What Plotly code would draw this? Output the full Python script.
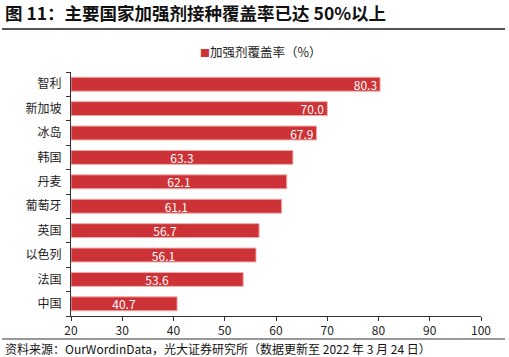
import plotly.graph_objects as go

countries = ["智利", "新加坡", "冰岛", "韩国", "丹麦", "葡萄牙", "英国", "以色列", "法国", "中国"]
coverage = [80.3, 70.0, 67.9, 63.3, 62.1, 61.1, 56.7, 56.1, 53.6, 40.7]
end_labeled = ["智利", "新加坡", "冰岛"]  # labels drawn at bar end; others centred
x_ticks = [20, 30, 40, 50, 60, 70, 80, 90, 100]
x_min, x_max = 20, 100

title = "图 11：主要国家加强剂接种覆盖率已达 50%以上"
source = "资料来源：OurWordinData，光大证券研究所（数据更新至 2022 年 3 月 24 日）"
series_name = "加强剂覆盖率（%）"

FONT = "Noto Sans CJK SC"
BAR = "#CC3236"
EDGE = "#EFA9A9"

fig = go.Figure()
for anchor, pick in (("middle", lambda c: c not in end_labeled), ("end", lambda c: c in end_labeled)):
    vals = [v if pick(c) else None for c, v in zip(countries, coverage)]
    fig.add_trace(go.Bar(
        y=countries, base=x_min,
        x=[(v - x_min) if v is not None else None for v in vals],
        orientation="h", name=series_name,
        marker=dict(color=BAR, line=dict(color=EDGE, width=1)),
        text=[f"{v:.1f}" if v is not None else "" for v in vals],
        textposition="inside", insidetextanchor=anchor, constraintext="none",
        textfont=dict(color="white", size=12, family=FONT),
        width=0.57, showlegend=False, hoverinfo="skip",
    ))

fig.update_layout(
    width=509, height=357,
    margin=dict(l=71, r=28, t=72, b=41),
    paper_bgcolor="white", plot_bgcolor="white",
    barmode="overlay",
    font=dict(family=FONT, size=12, color="#222"),
    xaxis=dict(range=[x_min, x_max], tickvals=x_ticks, showgrid=False, zeroline=False,
               showline=True, linecolor="#333", linewidth=1,
               ticks="outside", ticklen=4, tickcolor="#333",
               tickfont=dict(size=12, color="#222")),
    yaxis=dict(categoryorder="array", categoryarray=countries[::-1],
               showgrid=False, showline=True, linecolor="#333", linewidth=1,
               ticks="outside", ticklen=4, tickcolor="#333", tickson="boundaries",
               ticklabelstandoff=6,
               tickfont=dict(size=12, color="#222")),
    annotations=[
        dict(text=f"<b>{title}</b>", xref="paper", yref="paper",
             x=(3 - 71) / 410, y=(316 - 13) / 244, xanchor="left", yanchor="middle",
             showarrow=False, font=dict(size=17.5, color="#111", family=FONT)),
        dict(text=f"<span style='color:{BAR};font-size:10px'>■</span>{series_name}",
             xref="paper", yref="paper",
             x=(198 - 71) / 410, y=(316 - 52) / 244, xanchor="left", yanchor="middle",
             showarrow=False, font=dict(size=12.5, color="#222", family=FONT)),
        dict(text=source, xref="paper", yref="paper",
             x=(3 - 71) / 410, y=(316 - 348) / 244, xanchor="left", yanchor="middle",
             showarrow=False, font=dict(size=12, color="#111", family=FONT)),
    ],
    shapes=[
        dict(type="line", xref="paper", yref="paper",
             x0=(2 - 71) / 410, x1=(505 - 71) / 410,
             y0=(316 - 29) / 244, y1=(316 - 29) / 244,
             line=dict(color="#555", width=2)),
        dict(type="line", xref="paper", yref="paper",
             x0=(2 - 71) / 410, x1=(505 - 71) / 410,
             y0=(316 - 339) / 244, y1=(316 - 339) / 244,
             line=dict(color="#333", width=1)),
    ],
)

fig.write_html("out.html", config={"displayModeBar": False},
               post_script="document.body.style.margin='0';document.body.style.overflow='hidden';")
